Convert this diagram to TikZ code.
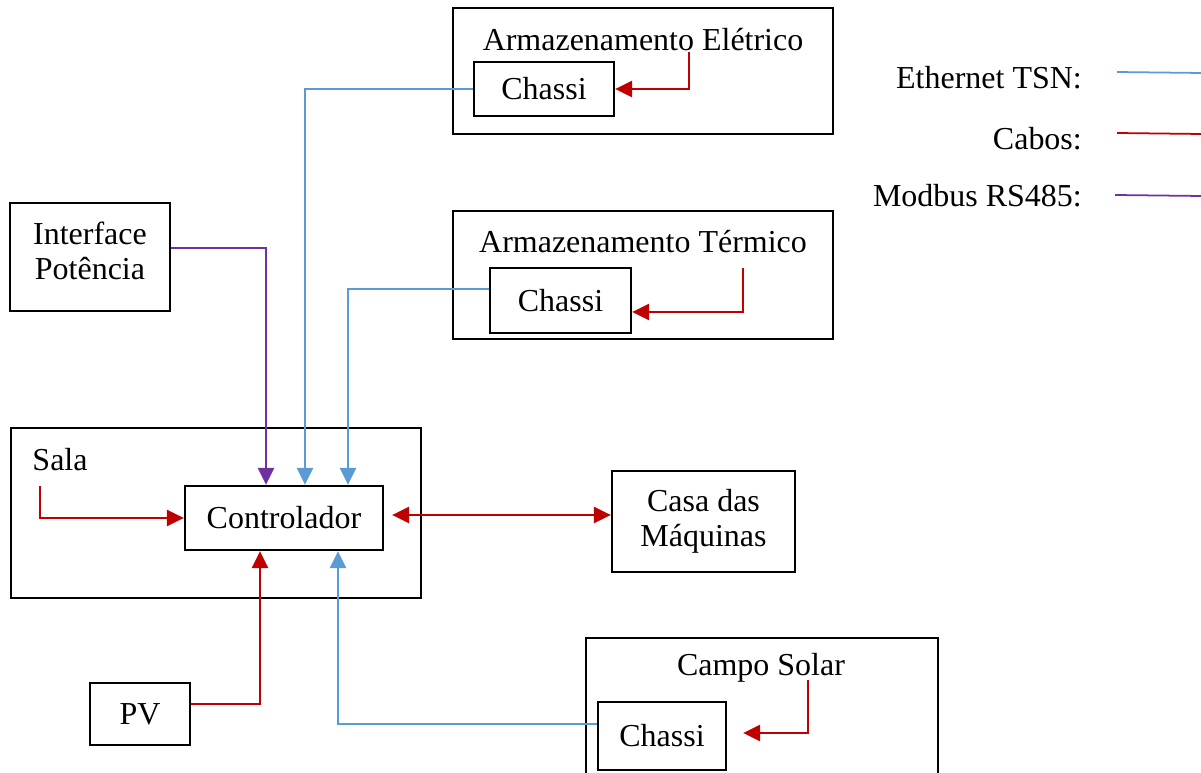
\documentclass[tikz,border=0pt]{standalone}
\usepackage{fontspec}
\setmainfont{Liberation Serif}
\usepackage{tikz}
\usetikzlibrary{arrows.meta}
\definecolor{tsnblue}{RGB}{91,155,213}
\definecolor{cabored}{RGB}{192,0,0}
\definecolor{modbuspurple}{RGB}{112,48,160}
\tikzstyle{tip} = [-{Triangle[length=0.34cm,width=0.32cm]}]
\tikzstyle{tsn} = [tip, draw=tsnblue, line width=1.4pt]
\tikzstyle{cable} = [tip, draw=cabored, line width=1.4pt]

\begin{document}
\begin{tikzpicture}[
    x=0.02cm, y=-0.02cm,
    every node/.style={font=\fontsize{18.2}{20}\selectfont},
    block/.style={
        rectangle,
        draw=black,
        line width=1.3pt,
        inner sep=0pt,
        align=center
    },
    modbus/.style={
        tip,
        draw=modbuspurple,
        line width=1.4pt
    },
    legend/.style={
        anchor=east
    }
    ]
    \useasboundingbox (0,0) rectangle (1201,773);

    % Armazenamento Eletrico
    \node[block, minimum width=7.6cm, minimum height=2.52cm] (armel) at (643,71) {};
    \node (armeltitle) at (643,40) {Armazenamento Elétrico};
    \node[block, minimum width=2.8cm, minimum height=1.08cm] (chel) at (544,89) {Chassi};
    \coordinate (elsrc) at (689,52);

    % Armazenamento Termico
    \node[block, minimum width=7.6cm, minimum height=2.56cm] (armterm) at (643,275) {};
    \node (armtermtitle) at (643,242) {Armazenamento Térmico};
    \node[block, minimum width=2.82cm, minimum height=1.3cm] (chterm) at (560.5,300.5) {Chassi};
    \coordinate (termsrc) at (743,268);

    % Interface
    \node[block, minimum width=3.2cm, minimum height=2.16cm] (iface) at (90,257) {};
    \node[align=center] (ifacetext) at (90,250.5) {Interface\\[0pt]Potência};

    % Sala
    \node[block, minimum width=8.2cm, minimum height=3.4cm] (sala) at (216,513) {};
    \node (salatitle) at (60,460) {Sala};
    \node[block, minimum width=3.96cm, minimum height=1.28cm] (ctrl) at (284,518) {Controlador};
    \coordinate (salasrc) at (40,486);

    % Casa das Maquinas
    \node[block, minimum width=3.66cm, minimum height=2.02cm] (casa) at (703.5,521.5) {Casa das\\Máquinas};

    % Campo Solar
    \node[block, minimum width=7.04cm, minimum height=3.04cm] (campo) at (762,714) {};
    \node (campotitle) at (761,668) {Campo Solar};
    \node[block, minimum width=2.56cm, minimum height=1.36cm] (chsol) at (662,736) {Chassi};
    \coordinate (solsrc) at (808,680);

    % PV
    \node[block, minimum width=2cm, minimum height=1.24cm] (pv) at (140,714) {PV};

    % legenda
    \node[legend] (lgtsn) at (1088,78) {Ethernet TSN:};
    \node[legend] (lgcabo) at (1088,139) {Cabos:};
    \node[legend] (lgmod) at (1088,196) {Modbus RS485:};
    \coordinate (tsna) at (1117,72);
    \coordinate (tsnb) at (1201,73);
    \coordinate (caboa) at (1117,133);
    \coordinate (cabob) at (1201,134);
    \coordinate (moda) at (1115,195);
    \coordinate (modb) at (1201,196);
    \draw[draw=tsnblue, line width=1pt] (tsna) -- (tsnb);
    \draw[draw=cabored, line width=1pt] (caboa) -- (cabob);
    \draw[draw=modbuspurple, line width=1pt] (moda) -- (modb);

    % ligacoes
    \draw[tsn] (chel.west) -| ([xshift=0.42cm]ctrl.north);
    \draw[tsn] ([yshift=0.23cm]chterm.west) -| ([xshift=1.28cm]ctrl.north);
    \draw[modbus] ([yshift=0.18cm]iface.east) -| ([xshift=-0.36cm]ctrl.north);
    \draw[tsn] ([yshift=0.24cm]chsol.west) -| ([xshift=1.08cm]ctrl.south);
    \draw[cable] ([yshift=0.2cm]pv.east) -| ([xshift=-0.48cm]ctrl.south);
    \draw[cable] (salasrc) |- (ctrl.west);
    \draw[cable] (elsrc) |- (chel.east);
    \draw[cable] (termsrc) |- ([yshift=-0.23cm]chterm.east);
    \draw[cable, shorten >=0.32cm] (solsrc) |- ([yshift=0.06cm]chsol.east);
    \draw[cable, {Triangle[length=0.34cm,width=0.32cm]}-{Triangle[length=0.34cm,width=0.32cm]}, shorten <=0.16cm]
        ([yshift=0.06cm]ctrl.east) -- ([yshift=0.06cm]ctrl.east -| casa.west);
\end{tikzpicture}
\end{document}
